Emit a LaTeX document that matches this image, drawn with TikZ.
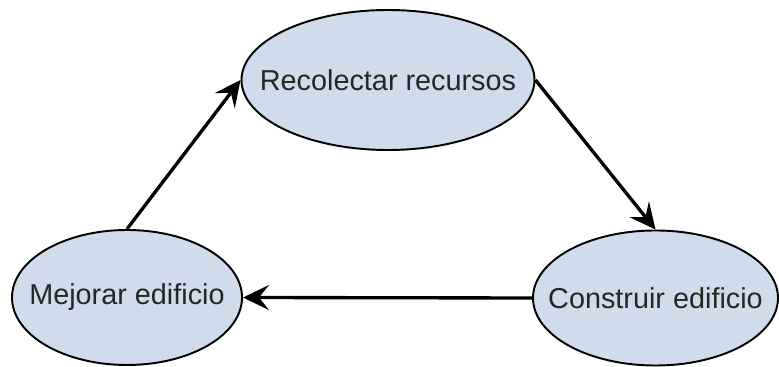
\documentclass[tikz,border=0pt]{standalone}
\usepackage{fontspec}
\setmainfont{Liberation Sans}
\usetikzlibrary{shapes.geometric, arrows.meta}
\definecolor{cajaazul}{RGB}{208,220,236}

\begin{document}
\begin{tikzpicture}[
    etapa/.style={ellipse, draw=black, line width=1.1pt, fill=cajaazul, inner sep=0pt,
        text=black!85, font=\fontsize{16.4}{19}\selectfont},
    flecha/.style={line width=1.9pt, -{Stealth[length=0.52cm, width=0.5cm, inset=0.2cm]}}]
    \useasboundingbox (0,0) rectangle (15.58,7.34);
    \node[etapa, minimum width=5.86cm, minimum height=2.8cm] (rec) at (7.76,5.74) {\makebox[0pt]{Recolectar recursos}};
    \node[etapa, minimum width=4.6cm, minimum height=2.7cm] (mej) at (2.54,1.39) {\makebox[0pt]{Mejorar edificio}};
    \node[etapa, minimum width=4.9cm, minimum height=2.7cm] (con) at (13.11,1.38) {\makebox[0pt]{Construir edificio}};
    \draw[flecha] (rec.east) -- (con.north);
    \draw[flecha] (con.west) -- (mej.east);
    \draw[flecha] (mej.north) -- (rec.west);
\end{tikzpicture}
\end{document}
